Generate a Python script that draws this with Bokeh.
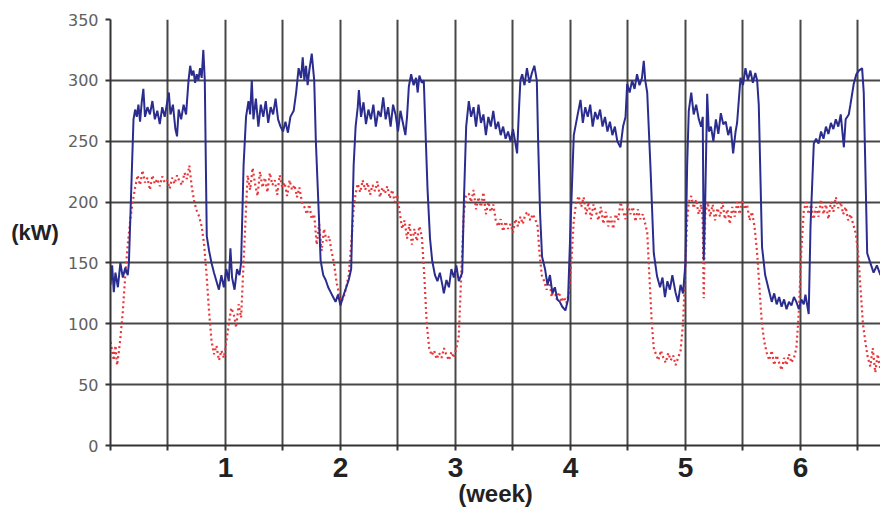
from bokeh.plotting import figure
from bokeh.models import FixedTicker
from bokeh.embed import file_html
from bokeh.resources import INLINE

# Time in days from start, load in kW
blue_pts = [
    (0.00,132),(0.10,148),(0.20,126),(0.30,142),(0.45,130),(0.60,150),(0.75,138),(0.90,146),(1.05,140),(1.12,150),
    (1.25,205),(1.40,268),(1.50,276),(1.60,270),(1.70,280),(1.80,266),(1.90,282),(2.00,293),(2.10,270),(2.25,278),
    (2.40,272),(2.55,283),(2.70,268),(2.85,275),(3.00,264),(3.15,278),(3.30,270),(3.45,282),(3.55,290),(3.65,272),
    (3.80,280),(3.95,260),(4.05,254),(4.15,276),(4.30,268),(4.45,280),(4.60,272),(4.75,300),(4.85,312),(4.95,304),
    (5.05,308),(5.15,298),(5.25,305),(5.35,300),(5.45,310),(5.55,302),(5.65,325),(5.74,300),(5.80,235),(5.86,172),
    (6.00,160),(6.15,150),(6.30,142),(6.45,135),(6.60,128),(6.75,140),(6.90,130),(7.05,145),(7.20,135),(7.30,162),
    (7.40,138),(7.55,128),(7.70,145),(7.85,140),(7.95,150),(8.10,230),(8.25,270),(8.40,283),
    (8.50,272),(8.60,300),(8.70,268),(8.85,285),(9.00,262),(9.15,280),(9.30,270),(9.45,283),(9.60,265),(9.75,278),
    (9.90,272),(10.05,285),(10.20,268),(10.35,262),(10.50,258),(10.65,266),(10.80,257),(10.95,270),(11.15,275),
    (11.30,290),(11.45,310),(11.60,302),(11.70,319),(11.80,300),(11.90,312),(12.00,296),(12.10,308),(12.25,322),
    (12.40,300),(12.50,250),(12.68,190),(12.79,152),(12.95,140),(13.10,136),(13.25,130),(13.40,126),(13.55,122),
    (13.70,118),(13.85,124),(14.00,115),(14.15,122),(14.30,128),(14.50,136),(14.65,145),(14.80,230),(14.92,262),
    (15.05,278),(15.12,292),
    (15.25,270),(15.40,282),(15.55,264),(15.70,276),(15.85,268),(16.00,280),(16.15,262),(16.30,275),(16.45,270),
    (16.60,286),(16.75,268),(16.90,278),(17.05,262),(17.20,280),(17.35,272),(17.50,258),(17.65,275),(17.80,265),
    (17.95,255),(18.05,270),(18.16,295),(18.30,305),(18.45,296),(18.60,302),(18.70,290),(18.80,304),(18.95,298),
    (19.07,300),(19.17,260),(19.30,210),(19.45,170),(19.58,152),(19.75,140),(19.90,135),(20.05,142),(20.20,132),
    (20.29,125),(20.45,136),(20.60,130),(20.75,145),(20.90,138),(21.05,148),(21.20,135),(21.41,142),(21.51,200),
    (21.65,262),(21.81,283),
    (21.95,270),(22.10,278),(22.25,262),(22.40,280),(22.55,265),(22.70,272),(22.85,255),(23.00,270),(23.15,262),
    (23.30,275),(23.45,260),(23.60,266),(23.75,255),(23.90,262),(24.05,252),(24.20,258),(24.35,250),(24.50,260),
    (24.65,248),(24.75,240),(24.86,275),(24.95,300),(25.06,305),(25.20,296),(25.35,310),(25.50,298),(25.65,306),
    (25.80,312),(25.95,300),(26.03,250),(26.15,190),(26.27,155),(26.45,145),(26.60,132),(26.75,140),(26.90,125),
    (27.05,130),(27.20,120),(27.35,118),(27.50,114),(27.69,111),(27.85,120),(28.00,180),(28.20,255),(28.41,270),
    (28.61,284),
    (28.75,265),(28.90,278),(29.05,270),(29.20,280),(29.35,262),(29.50,274),(29.65,268),(29.80,276),(29.95,262),
    (30.10,270),(30.25,258),(30.40,266),(30.55,255),(30.70,262),(30.85,250),(31.04,245),(31.20,262),(31.35,270),
    (31.45,297),(31.60,290),(31.75,300),(31.90,293),(32.05,305),(32.20,296),(32.35,302),(32.46,316),(32.55,300),
    (32.67,290),(32.87,228),(33.07,158),(33.27,139),(33.45,130),(33.60,138),(33.75,122),(33.90,135),(34.05,128),
    (34.20,140),(34.39,126),(34.55,118),(34.70,132),(34.85,125),(35.00,150),(35.10,230),(35.20,275),
    (35.35,290),(35.50,272),(35.65,280),(35.81,268),(35.95,262),(36.05,270),(36.11,152),(36.20,200),(36.32,289),
    (36.42,258),(36.55,262),(36.70,250),(36.85,268),(37.00,256),(37.15,273),(37.30,264),(37.45,266),(37.60,255),
    (37.75,262),(37.90,240),(38.05,258),(38.14,265),(38.35,302),(38.50,296),(38.65,310),(38.80,300),(38.95,308),
    (39.10,298),(39.25,306),(39.36,300),(39.46,280),(39.66,163),(39.85,140),(40.07,128),(40.25,118),(40.40,125),
    (40.55,116),(40.70,122),(40.85,114),(41.00,120),(41.15,112),(41.30,118),(41.45,115),(41.60,122),(41.75,118),
    (41.90,112),(42.05,120),(42.20,116),(42.30,124),(42.50,108),(42.61,180),(42.81,248),
    (42.95,252),(43.10,248),(43.25,258),(43.40,252),(43.55,262),(43.70,256),(43.85,265),(44.00,260),(44.15,268),
    (44.30,262),(44.45,272),(44.64,245),(44.75,268),(44.94,272),(45.04,280),(45.24,297),(45.40,305),(45.55,308),
    (45.75,310),(45.85,290),(46.06,158),(46.25,150),(46.45,142),(46.65,148),(46.87,140),
]

red_pts = [
    (0.00,85),(0.10,78),(0.20,70),(0.30,82),(0.40,66),(0.50,76),(0.60,88),(0.75,110),(0.90,140),(1.05,165),
    (1.20,185),(1.35,200),(1.50,212),(1.65,222),(1.80,214),(1.95,226),(2.10,216),(2.25,220),(2.40,210),(2.55,222),
    (2.70,215),(2.85,219),(3.00,213),(3.15,221),(3.30,216),(3.45,218),(3.60,211),(3.75,220),(3.90,215),(4.05,222),
    (4.20,217),(4.35,214),(4.50,224),(4.65,219),(4.80,230),(4.95,212),(5.10,200),(5.25,193),(5.40,188),(5.55,180),
    (5.70,165),(5.85,140),(6.00,110),(6.15,86),(6.30,75),(6.45,82),(6.60,70),(6.75,78),(6.90,72),(7.05,85),
    (7.20,100),(7.35,113),(7.50,108),(7.65,97),(7.80,116),(7.95,105),(8.10,150),(8.25,195),
    (8.35,222),(8.50,210),(8.65,228),(8.80,215),(8.95,205),(9.10,225),(9.25,212),(9.40,220),(9.55,208),(9.70,224),
    (9.85,214),(10.00,218),(10.15,206),(10.30,222),(10.45,212),(10.60,216),(10.75,205),(10.90,218),(11.05,210),
    (11.20,214),(11.35,204),(11.50,212),(11.65,200),(11.80,196),(11.95,190),(12.10,198),(12.25,186),(12.40,190),
    (12.55,165),(12.70,182),(12.85,160),(13.00,178),(13.15,168),(13.30,172),(13.45,160),(13.60,150),(13.75,135),
    (13.90,125),(14.05,118),(14.20,122),(14.35,130),(14.50,140),(14.65,165),(14.80,195),(14.92,207),
    (15.05,215),(15.20,208),(15.35,218),(15.50,210),(15.65,216),(15.80,206),(15.95,214),(16.10,209),(16.25,217),
    (16.40,204),(16.55,212),(16.70,207),(16.85,213),(17.00,203),(17.15,210),(17.30,200),(17.45,206),(17.60,192),
    (17.75,178),(17.90,185),(18.05,170),(18.20,182),(18.35,165),(18.50,178),(18.65,168),(18.80,180),(18.95,172),
    (19.10,140),(19.25,100),(19.40,80),(19.55,74),(19.70,78),(19.85,71),(20.00,76),(20.15,72),(20.30,80),
    (20.45,74),(20.60,70),(20.75,77),(20.90,72),(21.05,80),(21.20,90),(21.35,140),(21.50,190),(21.65,205),
    (21.81,207),(21.95,200),(22.10,210),(22.25,194),(22.40,204),(22.55,196),(22.70,208),(22.85,190),(23.00,200),
    (23.15,192),(23.30,198),(23.45,185),(23.60,180),(23.75,186),(23.90,176),(24.05,184),(24.20,178),(24.35,182),
    (24.50,175),(24.65,186),(24.80,180),(24.95,188),(25.10,182),(25.25,190),(25.40,192),(25.55,185),(25.70,190),
    (25.85,186),(26.00,180),(26.10,160),(26.25,140),(26.40,135),(26.55,128),(26.70,138),(26.85,122),(27.00,130),
    (27.15,120),(27.30,126),(27.45,118),(27.60,122),(27.75,117),(27.90,125),(28.05,150),(28.20,185),(28.35,200),
    (28.50,205),(28.65,196),(28.80,204),(28.95,190),(29.10,200),(29.25,186),(29.40,198),(29.55,192),(29.70,185),
    (29.85,196),(30.00,182),(30.15,192),(30.30,180),(30.45,188),(30.60,178),(30.75,190),(30.90,185),(31.05,200),
    (31.20,192),(31.35,186),(31.50,198),(31.65,190),(31.80,196),(31.95,184),(32.10,194),(32.25,186),(32.40,190),
    (32.55,182),(32.67,175),(32.80,140),(32.95,100),(33.07,80),(33.20,75),(33.35,70),(33.50,78),(33.65,72),
    (33.80,68),(33.95,76),(34.10,70),(34.25,74),(34.40,66),(34.55,72),(34.70,78),(34.85,100),(35.00,150),
    (35.10,185),(35.20,200),
    (35.35,205),(35.50,195),(35.65,202),(35.80,190),(35.95,198),(36.05,185),(36.11,121),(36.20,190),(36.35,200),
    (36.50,188),(36.65,198),(36.80,185),(36.95,195),(37.10,188),(37.25,200),(37.40,186),(37.55,194),(37.70,182),
    (37.85,196),(38.00,188),(38.15,200),(38.30,190),(38.45,202),(38.60,194),(38.75,198),(38.90,185),(39.05,192),
    (39.20,180),(39.35,160),(39.50,130),(39.65,100),(39.80,85),(39.95,76),(40.10,70),(40.25,78),(40.40,66),
    (40.55,74),(40.70,68),(40.85,62),(41.00,72),(41.15,66),(41.30,75),(41.45,68),(41.60,72),(41.75,80),
    (41.90,110),(42.05,160),(42.20,193),(42.35,200),(42.50,190),(42.65,198),(42.80,186),(42.95,196),(43.10,188),
    (43.25,202),(43.40,190),(43.55,198),(43.70,186),(43.85,200),(44.00,192),(44.15,204),(44.30,195),(44.45,200),
    (44.60,190),(44.75,196),(44.90,185),(45.05,190),(45.20,182),(45.35,175),(45.50,160),(45.65,130),(45.80,100),
    (45.95,85),(46.10,72),(46.25,65),(46.40,80),(46.55,60),(46.70,75),(46.87,62),
]

y_ticks = [0, 50, 100, 150, 200, 250, 300, 350]
week_labels = ["1", "2", "3", "4", "5", "6"]
days_per_week = 7
x_end_days = 46.87

blue_x = [d for d, _ in blue_pts]
blue_y = [v for _, v in blue_pts]
red_x = [d for d, _ in red_pts]
red_y = [v for _, v in red_pts]

p = figure(width=880, height=516, x_range=(0, x_end_days), y_range=(0, 350),
           output_backend="svg", toolbar_location=None,
           min_border_left=110, min_border_right=0, min_border_top=19, min_border_bottom=71)
p.outline_line_color = None
p.background_fill_color = "white"
p.border_fill_color = "white"

half_week_ticks = [i * days_per_week / 2 for i in range(0, 14)]
overrides = {float(t): "" for t in half_week_ticks}
for i, lab in enumerate(week_labels):
    overrides[float((i + 1) * days_per_week)] = lab

p.xaxis.ticker = FixedTicker(ticks=half_week_ticks)
p.xgrid.ticker = FixedTicker(ticks=half_week_ticks)
p.xaxis.major_label_overrides = overrides
p.yaxis.ticker = FixedTicker(ticks=y_ticks)
p.ygrid.ticker = FixedTicker(ticks=y_ticks)

for g in (p.xgrid, p.ygrid):
    g.grid_line_color = "#333333"
    g.grid_line_width = 2
    g.grid_line_alpha = 0.9

for ax in (p.xaxis, p.yaxis):
    ax.axis_line_color = "#333333"
    ax.axis_line_width = 2
    ax.major_tick_line_color = "#333333"
    ax.major_tick_line_width = 2
    ax.major_tick_in = 0
    ax.major_tick_out = 5
    ax.minor_tick_line_color = None
    ax.axis_label_text_font = "Liberation Sans"
    ax.axis_label_text_font_style = "bold"
    ax.axis_label_text_color = "#222222"

p.yaxis.major_label_text_font = "DejaVu Sans"
p.yaxis.major_label_text_font_size = "16px"
p.yaxis.major_label_text_color = "#606060"
p.yaxis.major_label_standoff = 7
p.yaxis.axis_label = "(kW)"
p.yaxis.axis_label_orientation = "horizontal"
p.yaxis.axis_label_text_font_size = "22px"
p.yaxis.axis_label_standoff = 6

p.xaxis.major_label_text_font = "Liberation Sans"
p.xaxis.major_label_text_font_style = "bold"
p.xaxis.major_label_text_font_size = "28px"
p.xaxis.major_label_text_color = "#222222"
p.xaxis.major_label_standoff = 7
p.xaxis.axis_label = "(week)"
p.xaxis.axis_label_text_font_size = "24px"
p.xaxis.axis_label_standoff = 0

p.line(red_x, red_y, line_color="#e8373a", line_width=2.2, line_dash="2 3")
p.line(blue_x, blue_y, line_color="#2b2d8e", line_width=2)

open("out.html", "w").write(file_html(p, INLINE))
